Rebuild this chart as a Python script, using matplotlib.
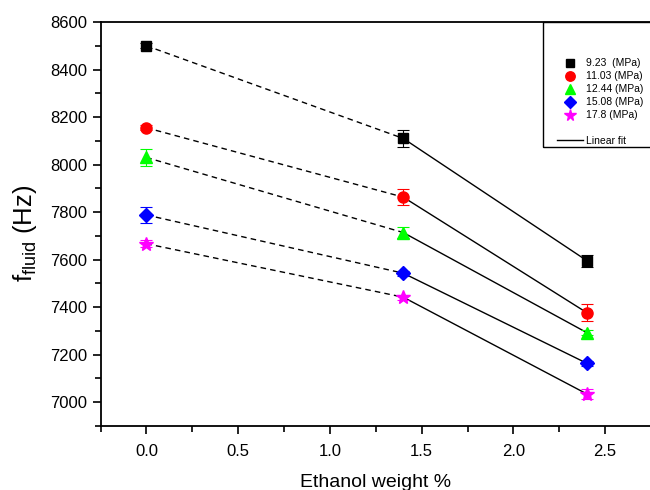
import matplotlib
matplotlib.use("Agg")
import matplotlib.pyplot as plt
from matplotlib.lines import Line2D
from matplotlib.patches import Rectangle
from matplotlib.ticker import MultipleLocator

plt.rcParams['font.family'] = ['Liberation Sans', 'DejaVu Sans']

ethanol = [0.0, 1.4, 2.4]
labels = ['9.23  (MPa)', '11.03 (MPa)', '12.44 (MPa)', '15.08 (MPa)', '17.8 (MPa)']
values = [
    [8500, 8110, 7596],
    [8155, 7863, 7377],
    [8030, 7714, 7293],
    [7788, 7543, 7164],
    [7667, 7442, 7035],
]
errors = [
    [10, 35, 25],
    [10, 35, 35],
    [35, 25, 12],
    [32, 10, 10],
    [15, 10, 20],
]
colors = ['black', 'red', 'lime', 'blue', 'magenta']
markers = ['s', 'o', '^', 'D', '*']
msizes = [7, 8, 8.5, 7.5, 10]

fig = plt.figure(figsize=(6.5, 4.9), dpi=100)
ax = fig.add_axes([100.5/650, (490-426)/490, (651-100.5)/650, (426-22)/490])

for vals, errs, c, m, ms in zip(values, errors, colors, markers, msizes):
    ax.plot(ethanol[:2], vals[:2], ls=(0, (4, 3)), color='black', lw=1, zorder=2)
    ax.plot(ethanol[1:], vals[1:], ls='-', color='black', lw=1, zorder=2)
    ax.errorbar(ethanol, vals, yerr=errs, fmt=m, color=c, ms=ms, mec=c,
                ecolor=c, elinewidth=0.8, capsize=4, capthick=0.8, zorder=3)

ax.set_xlim(-0.25, 2.75)
ax.set_ylim(6900, 8600)
ax.xaxis.set_major_locator(MultipleLocator(0.5))
ax.xaxis.set_minor_locator(MultipleLocator(0.25))
ax.yaxis.set_major_locator(MultipleLocator(200))
ax.yaxis.set_minor_locator(MultipleLocator(100))
ax.tick_params(which='both', direction='out', width=1.2, labelsize=12)
ax.tick_params(which='major', length=6)
ax.tick_params(which='minor', length=4)
ax.tick_params(axis='x', which='major', pad=7)
ax.xaxis.set_major_formatter(matplotlib.ticker.FormatStrFormatter('%.1f'))
for s in ax.spines.values():
    s.set_linewidth(1.3)
ax.spines['right'].set_visible(False)

ax.set_xlabel('Ethanol weight %', fontsize=14, labelpad=11)
ax.set_ylabel(r'f$_{\mathregular{fluid}}$ (Hz)', fontsize=18.5)
ax.yaxis.set_label_coords(-0.112, 0.478)

# legend
fig.patches.append(Rectangle((543/650, 1 - 147/490), 0.3, (147-22)/490,
                             transform=fig.transFigure, fill=False,
                             edgecolor='black', lw=1.0, zorder=5))
handles = [Line2D([], [], ls='none', marker=m, color=c, mec=c, ms=ms*0.85)
           for c, m, ms in zip(colors, markers, msizes)]
handles.append(Line2D([], [], ls='none'))
handles.append(Line2D([], [], color='black', lw=1))
leg_labels = labels + ['', 'Linear fit']
fig.legend(handles, leg_labels, loc='upper left',
           bbox_to_anchor=(557/650, 1 - 58.5/490), frameon=False,
           fontsize=7.5, handlelength=2.5, handletextpad=0.25,
           labelspacing=0.28, borderpad=0, borderaxespad=0)

fig.savefig('out.png', dpi=100)
